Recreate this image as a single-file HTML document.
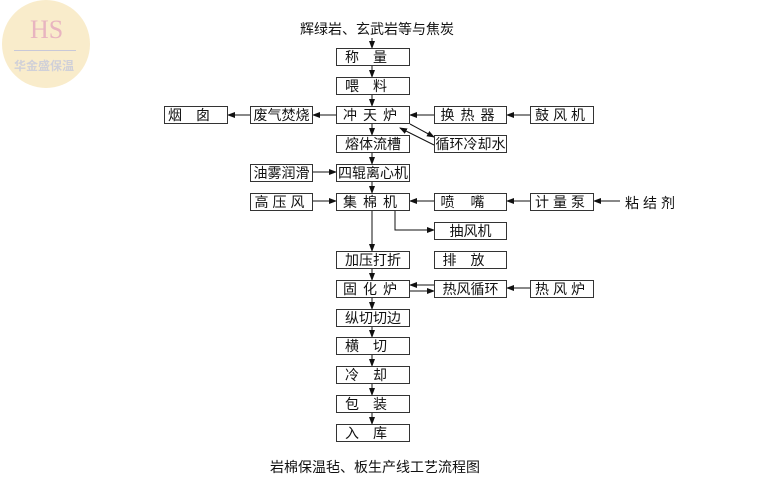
<!DOCTYPE html>
<html><head><meta charset="utf-8"><style>
body{margin:0;width:782px;height:491px;background:#fff;position:relative;overflow:hidden;font-family:"Liberation Sans","Noto Sans CJK SC",sans-serif;}
.b{position:absolute;border:1px solid #333;box-sizing:border-box;height:18px;font-size:14px;line-height:16px;text-align:center;color:#111;background:#fff;letter-spacing:1px;white-space:nowrap}
.t{position:absolute;font-size:14px;color:#111;white-space:nowrap}
svg{position:absolute;left:0;top:0}
</style></head><body>
<div style="position:absolute;left:2px;top:0;width:88px;height:88px;border-radius:50%;background:#f9eccb;"></div>
<div style="position:absolute;left:30px;top:15px;font-size:26px;color:#e8b4c0;font-family:'Liberation Serif',serif">HS</div>
<div style="position:absolute;left:14px;top:50px;width:62px;height:1px;background:#c8c8d8"></div>
<div style="position:absolute;left:14px;top:57px;font-size:12px;color:#d0d0d8;font-weight:bold">华金盛保温</div>
<svg width="782" height="491" viewBox="0 0 782 491">
<defs><marker id="a" markerWidth="8" markerHeight="8" refX="7" refY="4" orient="auto" markerUnits="userSpaceOnUse"><path d="M0,1 L8,4 L0,7z" fill="#111"/></marker></defs>
<g stroke="#111" stroke-width="1" fill="none" marker-end="url(#a)">
<line x1="372" y1="38" x2="372" y2="48"/>
<line x1="372" y1="64" x2="372" y2="77"/>
<line x1="372" y1="93" x2="372" y2="106"/>
<line x1="372" y1="123" x2="372" y2="135"/>
<line x1="372" y1="151" x2="372" y2="164"/>
<line x1="372" y1="180" x2="372" y2="193"/>
<line x1="372" y1="210" x2="372" y2="251"/>
<line x1="372" y1="267" x2="372" y2="280"/>
<line x1="372" y1="297" x2="372" y2="309"/>
<line x1="372" y1="325" x2="372" y2="337"/>
<line x1="372" y1="354" x2="372" y2="366"/>
<line x1="372" y1="383" x2="372" y2="395"/>
<line x1="372" y1="412" x2="372" y2="424"/>
<line x1="336" y1="115" x2="313" y2="115"/>
<line x1="250" y1="115" x2="228" y2="115"/>
<line x1="434" y1="115" x2="410" y2="115"/>
<line x1="530" y1="115" x2="507" y2="115"/>
<line x1="410" y1="124" x2="434" y2="137"/>
<line x1="434" y1="145" x2="400" y2="128"/>
<line x1="313" y1="172" x2="336" y2="172"/>
<line x1="313" y1="201" x2="336" y2="201"/>
<line x1="434" y1="201" x2="410" y2="201"/>
<line x1="530" y1="201" x2="507" y2="201"/>
<line x1="620" y1="201" x2="594" y2="201"/>
<polyline points="395,210 395,230 434,230"/>
<line x1="434" y1="285" x2="410" y2="285"/>
<line x1="410" y1="291" x2="434" y2="291"/>
<line x1="530" y1="288" x2="507" y2="288"/>
</g></svg>
<div class="t" style="left:300px;top:19px">辉绿岩、玄武岩等与焦炭</div>
<div class="b" style="left:336px;top:48px;width:74px;letter-spacing:14px">称量</div>
<div class="b" style="left:336px;top:77px;width:74px;letter-spacing:14px">喂料</div>
<div class="b" style="left:336px;top:106px;width:74px;letter-spacing:6px">冲天炉</div>
<div class="b" style="left:336px;top:135px;width:74px;letter-spacing:0">熔体流槽</div>
<div class="b" style="left:336px;top:164px;width:74px;letter-spacing:0">四辊离心机</div>
<div class="b" style="left:336px;top:193px;width:74px;letter-spacing:6px">集棉机</div>
<div class="b" style="left:336px;top:251px;width:74px;letter-spacing:0">加压打折</div>
<div class="b" style="left:336px;top:280px;width:74px;letter-spacing:6px">固化炉</div>
<div class="b" style="left:336px;top:309px;width:74px;letter-spacing:0">纵切切边</div>
<div class="b" style="left:336px;top:337px;width:74px;letter-spacing:14px">横切</div>
<div class="b" style="left:336px;top:366px;width:74px;letter-spacing:14px">冷却</div>
<div class="b" style="left:336px;top:395px;width:74px;letter-spacing:14px">包装</div>
<div class="b" style="left:336px;top:424px;width:74px;letter-spacing:14px">入库</div>
<div class="b" style="left:164px;top:106px;width:64px;letter-spacing:14px">烟囱</div>
<div class="b" style="left:250px;top:106px;width:63px;letter-spacing:0">废气焚烧</div>
<div class="b" style="left:250px;top:164px;width:63px;letter-spacing:0">油雾润滑</div>
<div class="b" style="left:250px;top:193px;width:63px;letter-spacing:4px">高压风</div>
<div class="b" style="left:434px;top:106px;width:73px;letter-spacing:6px">换热器</div>
<div class="b" style="left:434px;top:135px;width:73px;letter-spacing:0">循环冷却水</div>
<div class="b" style="left:434px;top:193px;width:73px;letter-spacing:16px">喷嘴</div>
<div class="b" style="left:434px;top:222px;width:73px;letter-spacing:0">抽风机</div>
<div class="b" style="left:434px;top:251px;width:73px;letter-spacing:14px">排放</div>
<div class="b" style="left:434px;top:280px;width:73px;letter-spacing:0">热风循环</div>
<div class="b" style="left:530px;top:106px;width:64px;letter-spacing:4px">鼓风机</div>
<div class="b" style="left:530px;top:193px;width:64px;letter-spacing:4px">计量泵</div>
<div class="b" style="left:530px;top:280px;width:64px;letter-spacing:4px">热风炉</div>
<div class="t" style="left:625px;top:193px;letter-spacing:4px">粘结剂</div>
<div class="t" style="left:270px;top:457px">岩棉保温毡、板生产线工艺流程图</div>
</body></html>
